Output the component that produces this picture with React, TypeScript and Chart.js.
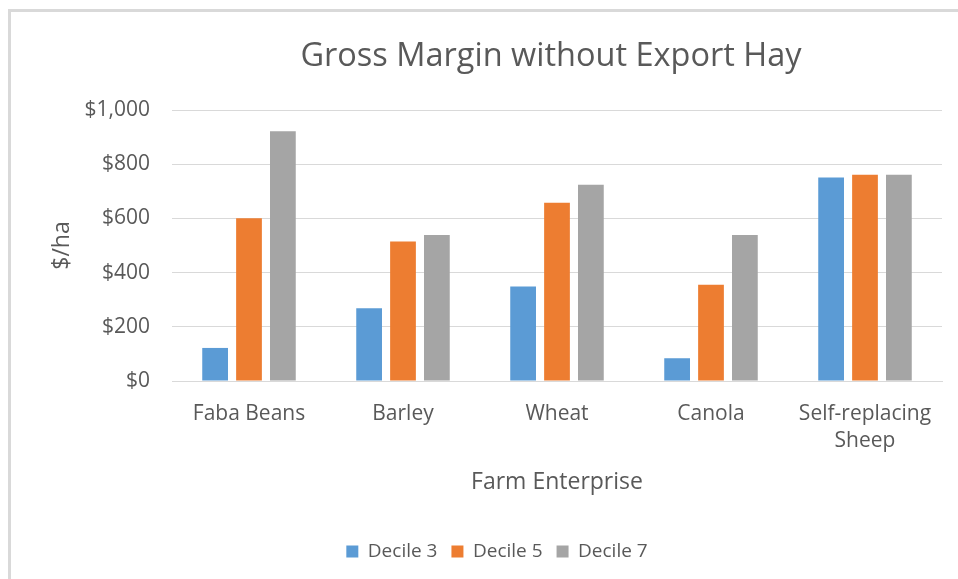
import React, { useEffect, useRef } from "react";
import { Chart, registerables } from "chart.js";

Chart.register(...registerables);

const categories: (string | string[])[] = ["Faba Beans", "Barley", "Wheat", "Canola", ["Self-replacing", "Sheep"]];
const decile3 = [122, 268, 349, 84, 751];
const decile5 = [601, 515, 658, 355, 761];
const decile7 = [922, 539, 724, 539, 761];
const yTicks = [0, 200, 400, 600, 800, 1000];

const FONT = "'Open Sans', 'Liberation Sans', sans-serif";
const TEXT = "#595959";
const GRID = "#d9d9d9";

function fmt(v: number) {
  return "$" + Math.round(v).toString().replace(/\B(?=(\d{3})+(?!\d))/g, ",");
}

const titleShift = {
  id: "titleShift",
  afterLayout(chart: any) {
    if (chart.titleBlock) chart.titleBlock.left -= 12;
  },
};

export default function App() {
  const ref = useRef<HTMLCanvasElement | null>(null);

  useEffect(() => {
    if (!ref.current) return;
    const chart = new Chart(ref.current, {
      type: "bar",
      data: {
        labels: categories as any,
        datasets: [
          { label: "Decile 3", data: decile3, backgroundColor: "#5B9BD5", borderWidth: 0 },
          { label: "Decile 5", data: decile5, backgroundColor: "#ED7D31", borderWidth: 0 },
          { label: "Decile 7", data: decile7, backgroundColor: "#A5A5A5", borderWidth: 0 },
        ],
      },
      plugins: [titleShift],
      options: {
        responsive: false,
        animation: false,
        devicePixelRatio: 1,
        layout: { padding: 0 },
        datasets: { bar: { categoryPercentage: 0.66, barPercentage: 0.76 } },
        plugins: {
          title: {
            display: true,
            text: "Gross Margin without Export Hay",
            fullSize: false,
            color: TEXT,
            font: { family: FONT, size: 32.5, weight: "normal" as any, lineHeight: 1.2 },
            padding: { top: 25, bottom: 34 },
          },
          legend: {
            position: "bottom",
            labels: {
              color: TEXT,
              font: { family: FONT, size: 19 },
              boxWidth: 12,
              boxHeight: 12,
              padding: 14,
            },
          },
          tooltip: { enabled: false },
        },
        scales: {
          x: {
            grid: { display: false, drawTicks: false },
            border: { display: true, color: GRID, width: 1 },
            ticks: {
              color: TEXT,
              font: { family: FONT, size: 21, lineHeight: 1.3 },
              padding: 19,
              autoSkip: false,
              maxRotation: 0,
              minRotation: 0,
            },
            title: {
              display: true,
              text: "Farm Enterprise",
              color: TEXT,
              font: { family: FONT, size: 23, lineHeight: 1.2 },
              padding: { top: 0, bottom: 31.6 },
            },
            afterFit: (s: any) => {
              s.height = 147;
            },
          },
          y: {
            min: 0,
            max: 1000,
            afterBuildTicks: (s: any) => {
              s.ticks = yTicks.map((v) => ({ value: v }));
            },
            grid: { color: GRID, lineWidth: 1, drawTicks: false },
            border: { display: false },
            ticks: {
              color: TEXT,
              font: { family: FONT, size: 21 },
              padding: 22,
              callback: (v: any) => fmt(Number(v)),
            },
            title: {
              display: true,
              text: "$/ha",
              color: TEXT,
              font: { family: FONT, size: 23, lineHeight: 1.2 },
              padding: { top: 38, bottom: 0 },
            },
            afterFit: (s: any) => {
              s.width = 161;
            },
          },
          yRight: {
            type: "linear",
            position: "right",
            display: true,
            grid: { display: false, drawTicks: false },
            border: { display: false },
            ticks: { display: false },
            afterFit: (s: any) => {
              s.width = 41;
            },
          },
        },
      } as any,
    });
    return () => chart.destroy();
  }, []);

  return (
    <div
      style={{
        position: "fixed",
        left: 8,
        top: 9,
        width: 950,
        height: 570,
        overflow: "hidden",
        boxSizing: "border-box",
        borderTop: "3px solid #d9d9d9",
        borderLeft: "3px solid #d9d9d9",
        background: "#fff",
      }}
    >
      <canvas ref={ref} width={972} height={559} style={{ display: "block" }} />
    </div>
  );
}
